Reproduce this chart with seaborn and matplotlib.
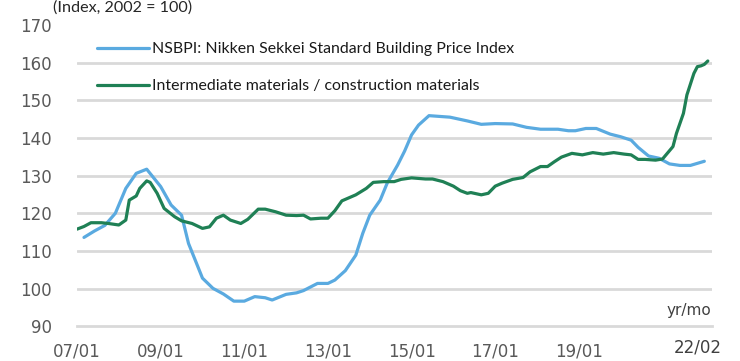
import matplotlib
matplotlib.use("Agg")
import matplotlib.pyplot as plt
import seaborn as sns
import pandas as pd
from matplotlib.lines import Line2D

# ---------------- data ----------------
series_names = ["NSBPI: Nikken Sekkei Standard Building Price Index",
                "Intermediate materials / construction materials"]

nsbpi_dates = ["2007-03", "2007-06", "2007-09", "2007-12", "2008-03", "2008-06", "2008-09", "2009-01",
               "2009-04", "2009-07", "2009-09", "2010-01", "2010-04", "2010-07", "2010-10", "2011-01",
               "2011-04", "2011-07", "2011-09", "2012-01", "2012-04", "2012-06", "2012-10", "2013-01",
               "2013-03", "2013-06", "2013-09", "2013-11", "2014-01", "2014-04", "2014-06", "2014-09",
               "2014-11", "2015-01", "2015-03", "2015-06", "2015-12", "2016-05", "2016-09", "2017-01",
               "2017-06", "2017-10", "2018-02", "2018-07", "2018-10", "2018-12", "2019-03", "2019-06",
               "2019-10", "2020-01", "2020-04", "2020-06", "2020-09", "2020-12", "2021-03", "2021-06",
               "2021-09", "2022-01"]
nsbpi_values = [113.6, 115.3, 116.8, 120.0, 126.6, 130.6, 131.7, 127.1,
                122.2, 119.5, 112.0, 102.8, 100.1, 98.6, 96.7, 96.7,
                97.9, 97.6, 97.0, 98.5, 98.9, 99.5, 101.4, 101.4,
                102.3, 104.8, 108.9, 114.7, 119.5, 123.5, 128.0, 132.8,
                136.5, 140.8, 143.4, 145.9, 145.5, 144.5, 143.6, 143.8,
                143.7, 142.8, 142.3, 142.3, 141.9, 141.9, 142.5, 142.5,
                141.0, 140.3, 139.4, 137.5, 135.2, 134.6, 133.1, 132.7,
                132.7, 133.8]

mat_dates = ["2007-01", "2007-03", "2007-05", "2007-08", "2007-10", "2008-01", "2008-03", "2008-04",
             "2008-06", "2008-07", "2008-09", "2008-10", "2008-12", "2009-02", "2009-05", "2009-07",
             "2009-10", "2010-01", "2010-03", "2010-05", "2010-07", "2010-09", "2010-12", "2011-02",
             "2011-05", "2011-07", "2011-10", "2012-01", "2012-04", "2012-06", "2012-08", "2012-11",
             "2013-01", "2013-03", "2013-05", "2013-06", "2013-09", "2013-12", "2014-02", "2014-05",
             "2014-08", "2014-10", "2015-01", "2015-05", "2015-07", "2015-10", "2016-01", "2016-03",
             "2016-05", "2016-06", "2016-09", "2016-11", "2017-01", "2017-03", "2017-06", "2017-09",
             "2017-11", "2018-02", "2018-04", "2018-06", "2018-08", "2018-11", "2019-02", "2019-05",
             "2019-08", "2019-11", "2020-02", "2020-04", "2020-06", "2020-08", "2020-11", "2021-01",
             "2021-02", "2021-04", "2021-05", "2021-07", "2021-08", "2021-10", "2021-11", "2021-12",
             "2022-01", "2022-02"]
mat_values = [115.8, 116.5, 117.5, 117.5, 117.3, 116.9, 118.2, 123.5,
              124.6, 126.6, 128.6, 128.2, 125.3, 121.3, 119.1, 118.0,
              117.3, 116.0, 116.4, 118.7, 119.5, 118.2, 117.3, 118.4,
              121.1, 121.1, 120.4, 119.5, 119.4, 119.5, 118.5, 118.7,
              118.7, 120.7, 123.3, 123.7, 124.9, 126.6, 128.2, 128.4,
              128.4, 129.0, 129.4, 129.1, 129.1, 128.4, 127.2, 126.0,
              125.3, 125.5, 124.9, 125.3, 127.2, 128.0, 129.0, 129.5,
              131.0, 132.4, 132.4, 133.7, 134.9, 135.9, 135.5, 136.1,
              135.7, 136.1, 135.7, 135.5, 134.3, 134.3, 134.1, 134.4,
              135.5, 137.7, 141.2, 146.5, 151.4, 157.1, 158.9, 159.1,
              159.5, 160.4]

y_ticks = [90, 100, 110, 120, 130, 140, 150, 160, 170]
x_tick_labels = ["07/01", "09/01", "11/01", "13/01", "15/01", "17/01", "19/01"]
last_label = "22/02"
unit_label = "(Index, 2002 = 100)"
axis_label = "yr/mo"

START_YEAR = 2007


def month_index(s):
    y, m = s.split("-")
    return (int(y) - START_YEAR) * 12 + int(m) - 1


df = pd.concat([
    pd.DataFrame({"m": [month_index(d) for d in nsbpi_dates], "v": nsbpi_values, "series": series_names[0]}),
    pd.DataFrame({"m": [month_index(d) for d in mat_dates], "v": mat_values, "series": series_names[1]}),
], ignore_index=True)

# ---------------- style ----------------
sns.set_theme(style="white")
plt.rcParams["font.family"] = ["DejaVu Sans"]

BLUE = "#5AAAE0"
GREEN = "#1F8055"
GRID = "#D9D9D9"
TXT = "#595959"
palette = {series_names[0]: BLUE, series_names[1]: GREEN}

W, H = 740, 361
fig = plt.figure(figsize=(W / 100, H / 100), dpi=100)
ax = fig.add_axes([77 / W, 1 - 326.4 / H, (712 - 77) / W, (326.4 - 24.8) / H])

sns.lineplot(data=df, x="m", y="v", hue="series", palette=palette, linewidth=2.3,
             estimator=None, sort=False, legend=False, ax=ax)

ax.set_xlim(0, 182.2)
ax.set_ylim(y_ticks[0], y_ticks[-1])
ax.set_xlabel("")
ax.set_ylabel("")

# y axis
ax.set_yticks(y_ticks)
ax.set_yticklabels([str(t) for t in y_ticks])
ax.tick_params(axis="y", length=0, pad=18, labelsize=12, labelcolor=TXT)
for t in y_ticks[1:-1]:
    ax.axhline(t, color=GRID, linewidth=2.0, zorder=0)

# x axis
month_total = 12 * 15
xt = list(range(0, month_total + 1, 12))
ax.set_xticks(xt)
labels = []
for i, t in enumerate(xt):
    labels.append(x_tick_labels[i // 2] if (i % 2 == 0 and i // 2 < len(x_tick_labels)) else "")
ax.set_xticklabels(labels)
ax.tick_params(axis="x", direction="out", length=4, width=1.5, color=GRID, pad=7.5,
               labelsize=12, labelcolor=TXT)

for s in ["top", "right", "left"]:
    ax.spines[s].set_visible(False)
ax.spines["bottom"].set_color(GRID)
ax.spines["bottom"].set_linewidth(2.0)

# extra texts
fig.text(698 / W, 1 - 347 / H, last_label, ha="center", va="center", fontsize=12, color="#404040")
fig.text(711 / W, 1 - 311 / H, axis_label, ha="right", va="center", fontsize=11, color="#404040")
fig.text(53 / W, 1 - 0.5 / H, unit_label, ha="left", va="top", fontsize=11.6, color="#262626",
         family=["Lato", "DejaVu Sans"])

# legend
handles = [Line2D([], [], color=BLUE, linewidth=2.3), Line2D([], [], color=GREEN, linewidth=2.3)]
leg = ax.legend(handles, series_names, loc="upper left", bbox_to_anchor=(97 / W, 1 - 42 / H),
                bbox_transform=fig.transFigure, frameon=False, borderpad=0, borderaxespad=0,
                handlelength=3.3, handletextpad=0.15, labelspacing=1.45,
                prop={"family": ["Lato", "DejaVu Sans"], "size": 11.4})
for t in leg.get_texts():
    t.set_color("#1a1a1a")

fig.savefig("out.png", dpi=100)
